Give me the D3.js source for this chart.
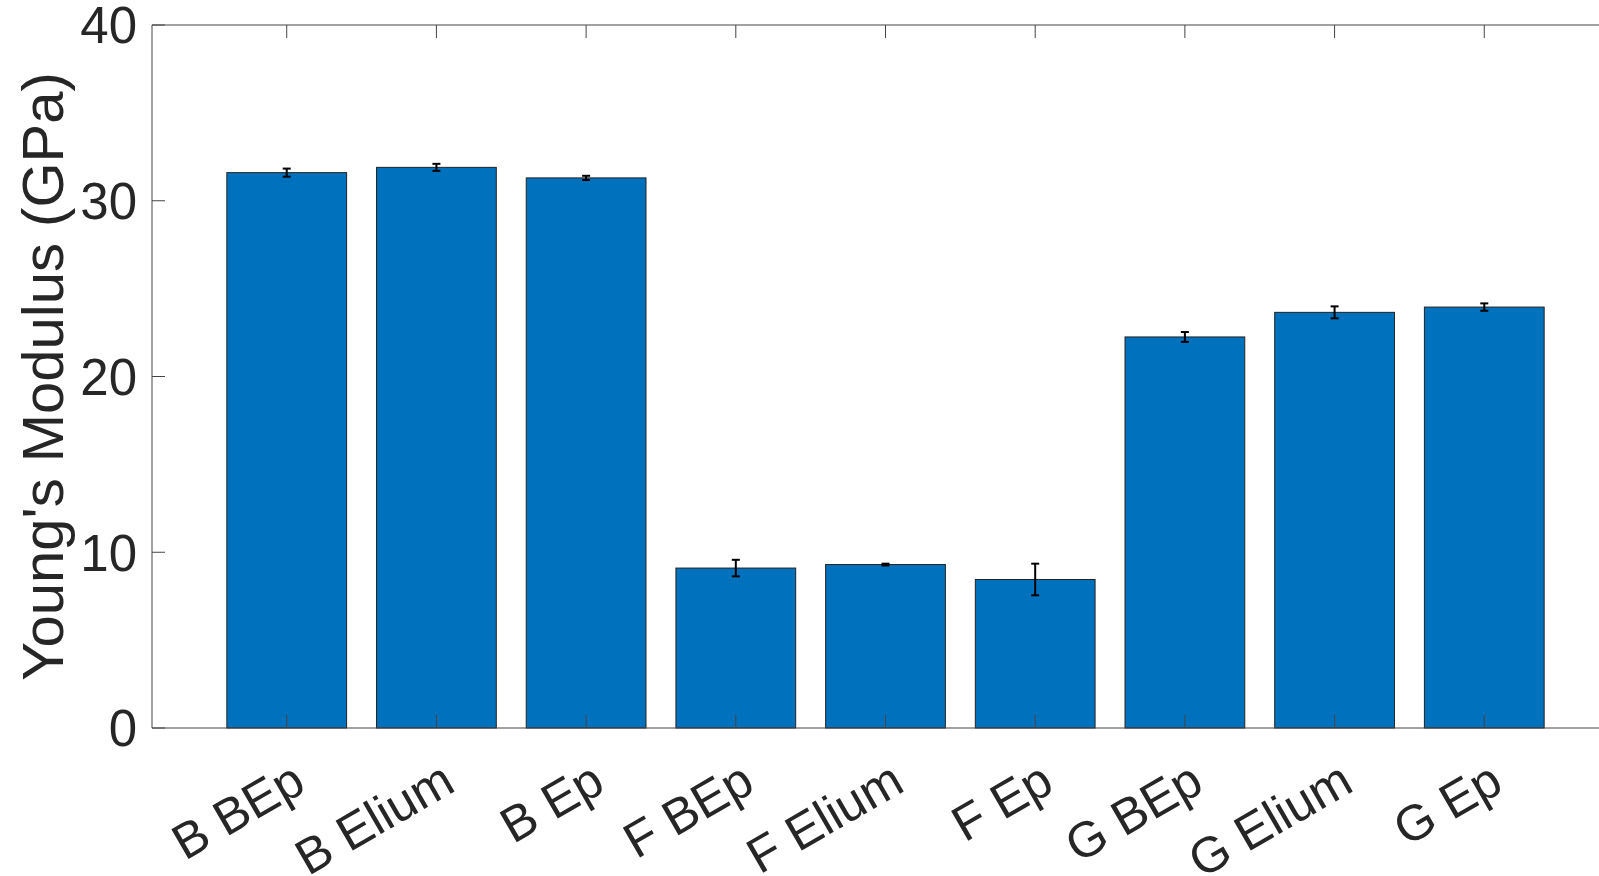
<!DOCTYPE html>
<html>
<head>
<meta charset="utf-8">
<script src="https://cdn.jsdelivr.net/npm/d3@7"></script>
<style>
  body { margin: 0; background: #fff; }
  svg { display: block; }
</style>
</head>
<body>
<svg id="chart" width="1599" height="876"></svg>
<script>
// Data
const categories = ['B BEp', 'B Elium', 'B Ep', 'F BEp', 'F Elium', 'F Ep', 'G BEp', 'G Elium', 'G Ep'];
const modulus = [31.6, 31.9, 31.3, 9.1, 9.3, 8.45, 22.25, 23.65, 23.95];
const errors = [0.23, 0.2, 0.12, 0.47, 0.05, 0.9, 0.28, 0.34, 0.21];
const yTicks = [0, 10, 20, 30, 40];

const svg = d3.select('#chart');
const plotLeft = 152, plotTop = 25, plotBottom = 728, plotRight = 1619;
const textColor = '#262626';
const axisColor = '#444';
const fontFamily = '"Liberation Sans", Arial, Helvetica, sans-serif';

const x = d3.scaleBand()
    .domain(categories)
    .range([plotLeft, plotRight])
    .paddingInner(0.2)
    .paddingOuter(0.5);

const y = d3.scaleLinear()
    .domain([0, 40])
    .range([plotBottom, plotTop]);

const data = categories.map((c, i) => ({ name: c, value: modulus[i], err: errors[i] }));

// Bars
svg.selectAll('.bar')
    .data(data)
    .enter().append('rect')
    .attr('class', 'bar')
    .attr('x', d => x(d.name))
    .attr('y', d => y(d.value))
    .attr('width', x.bandwidth())
    .attr('height', d => y(0) - y(d.value))
    .attr('fill', '#0072BD')
    .attr('stroke', '#222')
    .attr('stroke-width', 1);

// Error bars
const capHalf = 4;
const errG = svg.append('g').attr('stroke', '#000').attr('stroke-width', 2);
data.forEach(d => {
    const cx = x(d.name) + x.bandwidth() / 2;
    const y1 = y(d.value + d.err), y2 = y(d.value - d.err);
    errG.append('line').attr('x1', cx).attr('x2', cx).attr('y1', y1).attr('y2', y2);
    errG.append('line').attr('x1', cx - capHalf).attr('x2', cx + capHalf).attr('y1', y1).attr('y2', y1);
    errG.append('line').attr('x1', cx - capHalf).attr('x2', cx + capHalf).attr('y1', y2).attr('y2', y2);
});

// Axes box with inward ticks
const tickLen = 13;
const axisG = svg.append('g').attr('stroke', axisColor).attr('stroke-width', 1).attr('fill', 'none');
axisG.append('line').attr('x1', plotLeft).attr('x2', plotLeft).attr('y1', plotTop).attr('y2', plotBottom);
axisG.append('line').attr('x1', plotLeft).attr('x2', plotRight).attr('y1', plotBottom).attr('y2', plotBottom);
axisG.append('line').attr('x1', plotLeft).attr('x2', plotRight).attr('y1', plotTop).attr('y2', plotTop);
axisG.append('line').attr('x1', plotRight).attr('x2', plotRight).attr('y1', plotTop).attr('y2', plotBottom);

yTicks.forEach(t => {
    axisG.append('line').attr('x1', plotLeft).attr('x2', plotLeft + tickLen).attr('y1', y(t)).attr('y2', y(t));
});
categories.forEach(c => {
    const cx = x(c) + x.bandwidth() / 2;
    axisG.append('line').attr('x1', cx).attr('x2', cx).attr('y1', plotBottom).attr('y2', plotBottom - tickLen);
    axisG.append('line').attr('x1', cx).attr('x2', cx).attr('y1', plotTop).attr('y2', plotTop + tickLen);
});

// Y tick labels
svg.selectAll('.ytick')
    .data(yTicks)
    .enter().append('text')
    .attr('class', 'ytick')
    .attr('x', plotLeft - 15)
    .attr('y', d => y(d))
    .attr('dy', '0.36em')
    .attr('text-anchor', 'end')
    .attr('font-family', fontFamily)
    .attr('font-size', '51px')
    .attr('fill', textColor)
    .text(d => d);

// X tick labels, rotated 30 degrees
svg.selectAll('.xtick')
    .data(categories)
    .enter().append('text')
    .attr('class', 'xtick')
    .attr('transform', d => `translate(${x(d) + x.bandwidth() / 2 + 21},${plotBottom + 62}) rotate(-30)`)
    .attr('text-anchor', 'end')
    .attr('font-family', fontFamily)
    .attr('font-size', '50px')
    .attr('fill', textColor)
    .text(d => d);

// Y axis title
svg.append('text')
    .attr('transform', `translate(63,${(plotTop + plotBottom) / 2}) rotate(-90)`)
    .attr('text-anchor', 'middle')
    .attr('font-family', fontFamily)
    .attr('font-size', '58px')
    .attr('fill', textColor)
    .text("Young's Modulus (GPa)");
</script>
</body>
</html>
